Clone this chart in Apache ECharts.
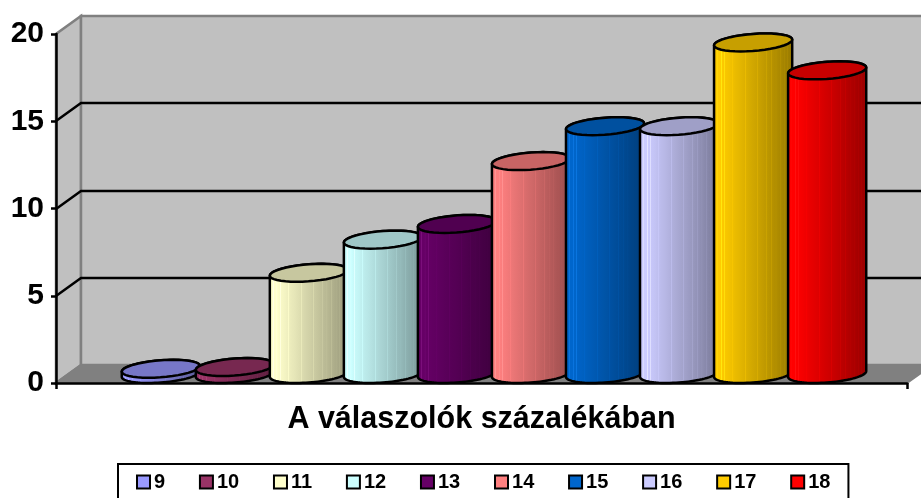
<!DOCTYPE html>
<html>
<head>
<meta charset="utf-8">
<style>
    html, body { margin: 0; padding: 0; background: #fff; }
    #chart { width: 921px; height: 498px; }
</style>
<script src="https://cdn.jsdelivr.net/npm/echarts@6/dist/echarts.min.js"></script>
</head>
<body>
<div id="chart"></div>
<script>
const categories = ['A válaszolók százalékában'];
const seriesNames = ['9', '10', '11', '12', '13', '14', '15', '16', '17', '18'];
const seriesValues = [0.3, 0.4, 5.8, 7.7, 8.6, 12.2, 14.2, 14.2, 19, 17.4];
const seriesColors = ['#9999ff', '#993366', '#ffffcc', '#ccffff', '#660066', '#ff8080', '#0066cc', '#ccccff', '#ffcc00', '#ff0000'];
const yTicks = [0, 5, 10, 15, 20];

// 3d look: how far the back wall is pushed from the front plane
const DEPTH_X = 25;
const DEPTH_Y = -18;
const CLUSTER_SHARE = 0.087; // one cylinder as a share of the category band

const shade = (hex, k) => {
    const n = parseInt(hex.slice(1), 16);
    const c = [n >> 16, (n >> 8) & 255, n & 255].map(v => Math.round(Math.min(255, v * k + (k > 1 ? 255 * (k - 1) : 0))));
    return 'rgb(' + c.join(',') + ')';
};

// left to right fade of the cylinder, with the thin stripes excel leaves in it
const stripes = [0.06, 0.1, 0.14, 0.24, 0.4, 0.55, 0.66, 0.72, 0.78, 0.84, 0.88, 0.92, 0.96];
const bodyFill = (hex) => {
    const stops = [];
    const at = (x) => x < 0.1 ? 1 : 1 - (x - 0.1) * 0.45;
    for (let x = 0; x <= 1.0001; x += 0.04) {
        stops.push({ offset: Math.min(x, 1), color: shade(hex, at(x)) });
    }
    stripes.forEach(s => {
        stops.push({ offset: s - 0.003, color: shade(hex, at(s)) });
        stops.push({ offset: s, color: shade(hex, at(s) * 1.06) });
        stops.push({ offset: s + 0.008, color: shade(hex, at(s) * 1.06) });
        stops.push({ offset: s + 0.01, color: shade(hex, at(s)) });
    });
    stops.sort((a, b) => a.offset - b.offset);
    return { type: 'linear', x: 0, y: 0, x2: 1, y2: 0, colorStops: stops };
};

const ring = (cx, cy, rx, from, to) => {
    const pts = [];
    const steps = 40;
    for (let i = 0; i <= steps; i++) {
        const t = from + (to - from) * i / steps;
        pts.push([
            cx + Math.cos(t) * rx + Math.sin(t) * DEPTH_X / 2,
            cy + Math.sin(t) * DEPTH_Y / 2
        ]);
    }
    return pts;
};

const renderCylinder = (index) => (params, api) => {
    const band = api.size([1, 0])[0];
    const rx = band * CLUSTER_SHARE / 2;
    const top = api.coord([api.value(0), api.value(1)]);
    const base = api.coord([api.value(0), 0]);
    const cx = top[0] + (index - 4.5) * rx * 2 + DEPTH_X / 2;
    const topY = top[1] + DEPTH_Y / 2;
    const baseY = base[1] + DEPTH_Y / 2;
    const t0 = Math.atan2(DEPTH_X / 2, rx);
    const color = seriesColors[index];
    const body = ring(cx, baseY, rx, t0, t0 - Math.PI).concat(ring(cx, topY, rx, t0 - Math.PI, t0 - 2 * Math.PI));
    return {
        type: 'group',
        children: [
            {
                type: 'polygon',
                shape: { points: body },
                style: { fill: bodyFill(color), stroke: '#000', lineWidth: 2.5 }
            },
            {
                type: 'polygon',
                shape: { points: ring(cx, topY, rx, 0, Math.PI * 2) },
                style: { fill: shade(color, 0.78), stroke: '#000', lineWidth: 2.5 }
            }
        ]
    };
};

const renderWalls = (params, api) => {
    const right = api.coord([0, 0])[0] + api.size([1, 0])[0] / 2;
    const left = api.coord([0, 0])[0] - api.size([1, 0])[0] / 2;
    const y0 = api.coord([0, yTicks[0]])[1];
    const yMax = api.coord([0, yTicks[yTicks.length - 1]])[1];
    const grey = '#808080';
    const children = [
        {
            type: 'polygon',
            shape: { points: [[left, y0], [left + DEPTH_X, y0 + DEPTH_Y], [left + DEPTH_X, yMax + DEPTH_Y], [left, yMax]] },
            style: { fill: '#c0c0c0', stroke: grey, lineWidth: 2.5 }
        },
        {
            type: 'rect',
            shape: { x: left + DEPTH_X, y: yMax + DEPTH_Y, width: right - left, height: y0 - yMax },
            style: { fill: '#c0c0c0', stroke: grey, lineWidth: 2.5 }
        },
        {
            type: 'polygon',
            shape: { points: [[left, y0], [right, y0], [right + DEPTH_X, y0 + DEPTH_Y], [left + DEPTH_X, y0 + DEPTH_Y]] },
            style: { fill: grey, stroke: grey, lineWidth: 2 }
        }
    ];
    yTicks.slice(1, -1).forEach(v => {
        const y = Math.round(api.coord([0, v])[1]);
        children.push({
            type: 'polyline',
            shape: { points: [[left, y], [left + DEPTH_X, y + DEPTH_Y], [right + DEPTH_X, y + DEPTH_Y]] },
            style: { fill: 'none', stroke: '#000', lineWidth: 2.5 }
        });
    });
    return { type: 'group', children };
};

const cylinderSeries = seriesNames.map((name, i) => ({
    name: name,
    type: 'custom',
    z: 2,
    renderItem: renderCylinder(i),
    itemStyle: { color: seriesColors[i], borderColor: '#000', borderWidth: 2 },
    encode: { x: 0, y: 1 },
    data: [[0, seriesValues[i]]]
}));

const chart = echarts.init(document.getElementById('chart'));
chart.setOption({
    animation: false,
    textStyle: { fontFamily: '"Liberation Sans", Arial, sans-serif' },
    grid: { left: 56, right: 14, top: 34, bottom: 115 },
    legend: {
        data: seriesNames,
        left: 118,
        top: 464,
        padding: [8, 18, 8, 18],
        itemWidth: 13,
        itemHeight: 13,
        itemGap: 33.8,
        icon: 'rect',
        borderColor: '#000',
        borderWidth: 2,
        textStyle: { color: '#000', fontSize: 20, fontWeight: 'bold', padding: [0, 0, 0, -1] }
    },
    xAxis: {
        type: 'category',
        data: categories,
        axisLine: { lineStyle: { color: '#000', width: 2.5 } },
        axisTick: { show: true, length: 6, lineStyle: { color: '#000', width: 2.5 } },
        axisLabel: { color: '#000', fontSize: 30.5, fontWeight: 'bold', margin: 21 }
    },
    yAxis: {
        type: 'value',
        min: 0,
        max: 20,
        interval: 5,
        axisLine: { show: true, lineStyle: { color: '#000', width: 2.5 } },
        axisTick: { show: true, length: 5, lineStyle: { color: '#000', width: 2.5 } },
        axisLabel: { color: '#000', fontSize: 30, fontWeight: 'bold', margin: 12 },
        splitLine: { show: false }
    },
    series: [
        {
            name: 'walls',
            type: 'custom',
            z: -1,
            silent: true,
            renderItem: renderWalls,
            encode: { x: 0, y: 1 },
            data: [[0, 0]]
        }
    ].concat(cylinderSeries)
});
</script>
</body>
</html>
